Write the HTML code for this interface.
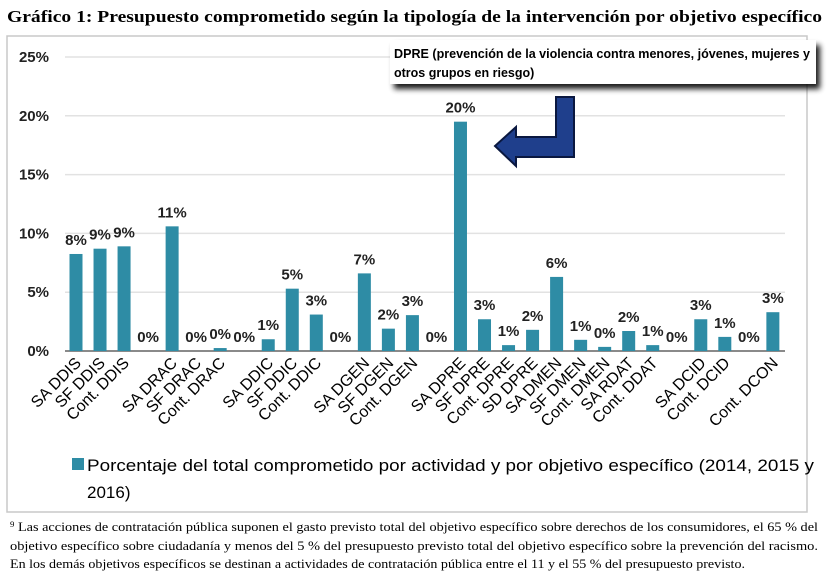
<!DOCTYPE html>
<html><head><meta charset="utf-8"><style>
html,body{margin:0;padding:0;background:#fff;width:831px;height:575px;overflow:hidden}
svg{display:block}
</style></head><body>
<svg id="chart" width="831" height="575" xmlns="http://www.w3.org/2000/svg">
<defs>
<filter id="sh" x="-10%" y="-30%" width="130%" height="180%"><feGaussianBlur in="SourceAlpha" stdDeviation="3"/><feOffset dx="4" dy="5"/><feComponentTransfer><feFuncA type="linear" slope="0.9"/></feComponentTransfer><feMerge><feMergeNode/><feMergeNode in="SourceGraphic"/></feMerge></filter>
</defs>
<text x="7" y="22" font-family="Liberation Serif, serif" font-weight="bold" font-size="17" textLength="815" lengthAdjust="spacingAndGlyphs">Gráfico 1: Presupuesto comprometido según la tipología de la intervención por objetivo específico</text>
<rect x="7" y="36" width="800" height="476" fill="#fff" stroke="#c8c8c8" stroke-width="1.5"/>
<g id="grid"></g>
<g id="bars"></g>
<g id="xlabels"></g>
<rect x="72" y="458" width="12" height="12" fill="#2e8ca5"/>
<text x="87" y="471" font-family="Liberation Sans, sans-serif" font-size="17" textLength="727" lengthAdjust="spacingAndGlyphs">Porcentaje del total comprometido por actividad y por objetivo específico (2014, 2015 y</text>
<text x="87" y="498" font-family="Liberation Sans, sans-serif" font-size="17">2016)</text>
<g font-family="Liberation Serif, serif" font-size="13">
<text x="10" y="531" textLength="808" lengthAdjust="spacingAndGlyphs"><tspan font-size="8" dy="-4">9</tspan><tspan dy="4"> Las acciones de contratación pública suponen el gasto previsto total del objetivo específico sobre derechos de los consumidores, el 65 % del</tspan></text>
<text x="10" y="550" textLength="808" lengthAdjust="spacingAndGlyphs">objetivo específico sobre ciudadanía y menos del 5 % del presupuesto previsto total del objetivo específico sobre la prevención del racismo.</text>
<text x="10" y="568" textLength="735" lengthAdjust="spacingAndGlyphs">En los demás objetivos específicos se destinan a actividades de contratación pública entre el 11 y el 55 % del presupuesto previsto.</text>
</g>
<g>
<rect x="390" y="40" width="426" height="44" fill="#fff" filter="url(#sh)"/>
<text x="394" y="58" font-family="Liberation Sans, sans-serif" font-weight="bold" font-size="12.5" textLength="416" lengthAdjust="spacingAndGlyphs">DPRE (prevención de la violencia contra menores, jóvenes, mujeres y</text>
<text x="394" y="77" font-family="Liberation Sans, sans-serif" font-weight="bold" font-size="12.5">otros grupos en riesgo)</text>
</g>
<path d="M556,97 L574,97 L574,157 L516,157 L516,166 L495,146 L516,127 L516,137 L556,137 Z" fill="#1f3f8c" stroke="#0a1840" stroke-width="2"/>
</svg>
<script>
const categories=["SA DDIS","SF DDIS","Cont. DDIS","","SA DRAC","SF DRAC","Cont. DRAC","","SA DDIC","SF DDIC","Cont. DDIC","","SA DGEN","SF DGEN","Cont. DGEN","","SA DPRE","SF DPRE","Cont. DPRE","SD DPRE","SA DMEN","SF DMEN","Cont. DMEN","SA RDAT","Cont. DDAT","","SA DCID","Cont. DCID","","Cont. DCON"];
const values=[8.25,8.7,8.9,0,10.6,0,0.25,0,1.0,5.3,3.1,0,6.6,1.9,3.05,0,19.5,2.7,0.5,1.8,6.3,0.95,0.35,1.7,0.5,0,2.7,1.2,0,3.3];
const ticks=[0,5,10,15,20,25];
const NS="http://www.w3.org/2000/svg";
const y0=351,y1=57,vmax=25;
function yS(v){return y0-(v/vmax)*(y0-y1);}
function xS(i){return 76+i*24.03;}
function mk(tag,attrs,parent,txt){const e=document.createElementNS(NS,tag);for(const k in attrs)e.setAttribute(k,attrs[k]);if(txt!==undefined)e.textContent=txt;parent.appendChild(e);return e;}
const grid=document.getElementById('grid'),bars=document.getElementById('bars'),xl=document.getElementById('xlabels');
ticks.forEach(t=>{
  const l=mk('line',{x1:65,x2:785,y1:yS(t),y2:yS(t),stroke:t===0?'#8a8a8a':'#e2e2e2','stroke-width':t===0?2:1.5},grid);
  
  
  const tx=mk('text',{x:49,y:yS(t)+5,'text-anchor':'end','font-family':'Liberation Sans, sans-serif','font-size':15,'font-weight':'bold',fill:'#222'},grid,t+'%');
  
  
});
values.forEach((v,i)=>{
  const x=xS(i);
  const r=mk('rect',{x:x-6.5,y:yS(v),width:13,height:y0-yS(v),fill:'#2e8ca5'},bars);
  
  
  const lb=mk('text',{x:x,y:yS(v)-9,'text-anchor':'middle','font-family':'Liberation Sans, sans-serif','font-size':15,'font-weight':'bold',fill:'#222'},bars,Math.round(v)+'%');
  
  
  if(categories[i]){
    const c=mk('text',{x:x+6,y:364,'text-anchor':'end','font-family':'Liberation Sans, sans-serif','font-size':16,transform:'rotate(-45 '+(x+6)+' 364)'},xl,categories[i]);
    
    
  }
});
</script>
</body></html>
